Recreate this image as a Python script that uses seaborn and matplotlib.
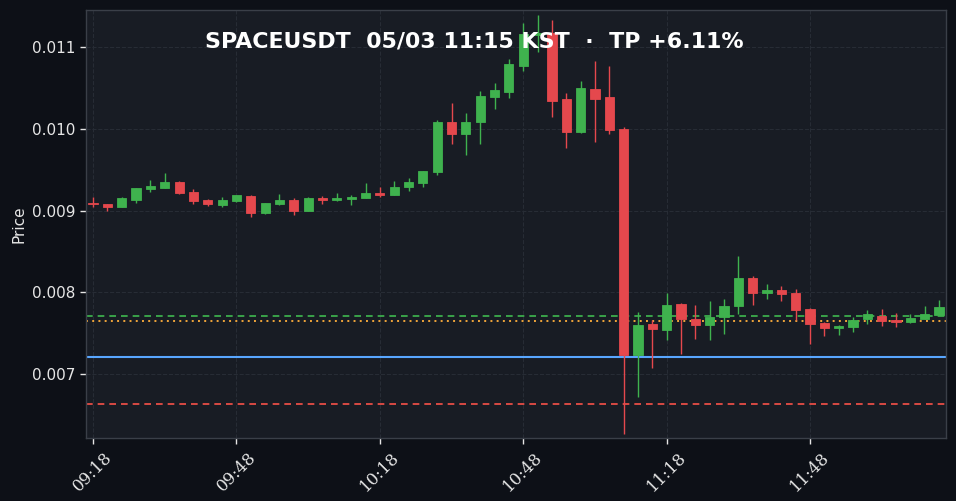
import matplotlib
matplotlib.use("Agg")
import matplotlib.pyplot as plt
import seaborn as sns
import numpy as np
import pandas as pd

# ---- data ----
opens = [0.009090, 0.009080, 0.009046, 0.009132, 0.009267, 0.009279, 0.009349, 0.009226, 0.009128, 0.009067,
         0.009120, 0.009181, 0.008973, 0.009080, 0.009128, 0.008998, 0.009153, 0.009132, 0.009144, 0.009157,
         0.009218, 0.009193, 0.009291, 0.009340, 0.009475, 0.010083, 0.009939, 0.010086, 0.010392, 0.010453,
         0.010771, 0.011150, 0.011168, 0.010364, 0.009964, 0.010486, 0.010388, 0.009997, 0.007236, 0.007612,
         0.007542, 0.007856, 0.007673, 0.007603, 0.007694, 0.007836, 0.008174, 0.007994, 0.008024, 0.007991,
         0.007795, 0.007624, 0.007563, 0.007579, 0.007669, 0.007713, 0.007661, 0.007636, 0.007673, 0.007722]
closes = [0.009085, 0.009046, 0.009153, 0.009275, 0.009300, 0.009349, 0.009218, 0.009120, 0.009083, 0.009125,
          0.009190, 0.008973, 0.009092, 0.009125, 0.008998, 0.009153, 0.009132, 0.009153, 0.009165, 0.009214,
          0.009193, 0.009284, 0.009345, 0.009479, 0.010083, 0.009939, 0.010083, 0.010401, 0.010474, 0.010792,
          0.011159, 0.011175, 0.010343, 0.009964, 0.010498, 0.010368, 0.009988, 0.007236, 0.007599, 0.007550,
          0.007844, 0.007676, 0.007603, 0.007694, 0.007832, 0.008174, 0.007994, 0.008024, 0.007982, 0.007787,
          0.007615, 0.007563, 0.007591, 0.007661, 0.007734, 0.007648, 0.007636, 0.007685, 0.007734, 0.007820]
highs = [0.009161, 0.009085, 0.009160, 0.009280, 0.009373, 0.009455, 0.009360, 0.009267, 0.009135, 0.009161,
         0.009195, 0.009190, 0.009095, 0.009202, 0.009153, 0.009160, 0.009177, 0.009210, 0.009186, 0.009333,
         0.009291, 0.009357, 0.009394, 0.009485, 0.010107, 0.010311, 0.010196, 0.010465, 0.010563, 0.010857,
         0.011290, 0.011388, 0.011330, 0.010441, 0.010580, 0.010825, 0.010771, 0.010018, 0.007755, 0.007661,
         0.007987, 0.007870, 0.007848, 0.007897, 0.007914, 0.008440, 0.008199, 0.008097, 0.008080, 0.008036,
         0.007810, 0.007636, 0.007595, 0.007694, 0.007783, 0.007791, 0.007743, 0.007734, 0.007828, 0.007902]
lows = [0.009039, 0.008990, 0.009040, 0.009088, 0.009230, 0.009275, 0.009200, 0.009083, 0.009051, 0.009046,
        0.009100, 0.008924, 0.008961, 0.009071, 0.008941, 0.008995, 0.009083, 0.009120, 0.009064, 0.009155,
        0.009161, 0.009190, 0.009242, 0.009284, 0.009434, 0.009810, 0.009679, 0.009810, 0.010238, 0.010372,
        0.010706, 0.010943, 0.010147, 0.009761, 0.009944, 0.009834, 0.009932, 0.006262, 0.006715, 0.007070,
        0.007416, 0.007245, 0.007428, 0.007416, 0.007486, 0.007734, 0.007840, 0.007914, 0.007889, 0.007661,
        0.007363, 0.007469, 0.007473, 0.007517, 0.007608, 0.007591, 0.007579, 0.007630, 0.007670, 0.007720]

tick_positions = [0, 10, 20, 30, 40, 50]
tick_labels = ["09:18", "09:48", "10:18", "10:48", "11:18", "11:48"]

level_tp = 0.007713
level_entry = 0.007648
level_blue = 0.007208
level_sl = 0.006633

title = "SPACEUSDT  05/03 11:15 KST  ·  TP +6.11%"

# ---- style ----
FIG_BG = "#0d1017"
AX_BG = "#181c24"
GREEN = "#3fb24e"
RED = "#e5484d"

sns.set_theme(style="dark", rc={
    "figure.facecolor": FIG_BG,
    "axes.facecolor": AX_BG,
    "axes.edgecolor": "#3a3f48",
    "axes.linewidth": 1.0,
    "grid.color": "#272c35",
    "grid.linestyle": "--",
    "grid.linewidth": 0.8,
    "xtick.color": "#e6e6e6",
    "ytick.color": "#e6e6e6",
    "text.color": "#ffffff",
    "axes.labelcolor": "#e6e6e6",
    "xtick.bottom": True,
    "ytick.left": True,
})
plt.rcParams["font.family"] = ["DejaVu Sans"]

df = pd.DataFrame({"open": opens, "close": closes, "high": highs, "low": lows})
df["idx"] = np.arange(len(df))
df["up"] = df["close"] >= df["open"]
df["color"] = np.where(df["up"], GREEN, RED)
df["bottom"] = df[["open", "close"]].min(axis=1)
df["height"] = (df["close"] - df["open"]).abs().clip(lower=0.000012)

fig = plt.figure(figsize=(9.56, 5.01), dpi=100)
ax = fig.add_axes([0.090, 0.1257, 0.8995, 0.8543])

# wicks
ax.vlines(df["idx"], df["low"], df["high"], colors=df["color"], linewidth=1.0, zorder=3)
# bodies
ax.bar(df["idx"], df["height"], bottom=df["bottom"], width=0.64,
       color=df["color"], edgecolor=df["color"], linewidth=0.6, zorder=4)

# levels
ax.axhline(level_tp, color="#3fb950", linestyle=(0, (4, 3)), linewidth=1.2, zorder=2)
ax.axhline(level_entry, color="#f0a53a", linestyle=(0, (1, 2.2)), linewidth=1.4, zorder=2)
ax.axhline(level_blue, color="#58a6ff", linestyle="-", linewidth=1.5, zorder=2)
ax.axhline(level_sl, color="#f85149", linestyle=(0, (4, 3)), linewidth=1.2, zorder=2)

ax.set_xlim(-0.49, 59.48)
ax.set_ylim(0.006217, 0.011453)
ax.set_yticks([0.007, 0.008, 0.009, 0.010, 0.011])
ax.set_yticklabels(["0.007", "0.008", "0.009", "0.010", "0.011"], fontsize=11)
ax.set_xticks(tick_positions)
ax.set_xticklabels(tick_labels, rotation=45, ha="center",
                   fontsize=12, family="DejaVu Serif")
ax.tick_params(axis="both", length=4, width=1, color="#e6e6e6")
ax.grid(True, which="major", axis="both")
ax.set_ylabel("Price", fontsize=11)
ax.set_xlabel("")

fig.text(0.4963, 0.918, title, ha="center", va="center", fontsize=15.9,
         fontweight="bold", color="#ffffff", zorder=10)

fig.savefig("out.png", dpi=100, facecolor=FIG_BG)
